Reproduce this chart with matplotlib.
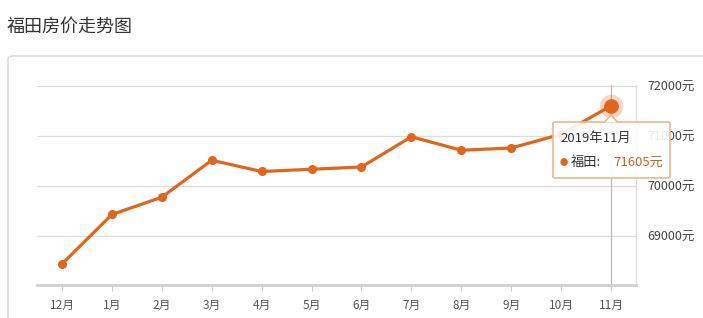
import matplotlib.pyplot as plt
from matplotlib.patches import FancyBboxPatch, Polygon

plt.rcParams['font.family'] = ['Noto Sans CJK SC', 'DejaVu Sans']

# data
months = ['12月', '1月', '2月', '3月', '4月', '5月', '6月', '7月', '8月', '9月', '10月', '11月']
prices = [68440, 69430, 69775, 70515, 70290, 70335, 70380, 70985, 70715, 70760, 71035, 71605]
y_ticks = [69000, 70000, 71000, 72000]
title = '福田房价走势图'
series_name = '福田'
tip_label = '2019年11月'

line_color = '#e2651c'
W, H = 703, 318

fig = plt.figure(figsize=(W / 100, H / 100), dpi=100)

def fx(px):
    return px / W

def fy(py):
    return 1 - py / H

# title and card border
fig.text(fx(7), fy(27), title, fontsize=13, color='#333333', va='center', ha='left')
card = FancyBboxPatch((fx(8), fy(330)), fx(720), fy(56) - fy(330),
                      boxstyle='round,pad=0,rounding_size=0.008',
                      transform=fig.transFigure, facecolor='white',
                      edgecolor='#dddddd', linewidth=1.2, zorder=-5)
fig.patches.append(card)

ax = fig.add_axes([fx(37), fy(285), fx(636) - fx(37), fy(85) - fy(285)])
ax.set_facecolor('none')
x = list(range(len(months)))
ax.set_xlim(-0.5, len(months) - 0.5)
ax.set_ylim(68020, 72020)

for v in y_ticks:
    ax.axhline(v, color='#dddddd', linewidth=0.9, zorder=1)

ax.plot(x, prices, color=line_color, linewidth=2.3, marker='o',
        markersize=5.5, zorder=3, solid_capstyle='round')
# hovered point
ax.axvline(x[-1], color='#bbbbbb', linewidth=0.9, zorder=2)
ax.plot(x[-1], prices[-1], 'o', color=line_color, markersize=17, alpha=0.25,
        markeredgewidth=0, zorder=4)
ax.plot(x[-1], prices[-1], 'o', color=line_color, markersize=9.5, zorder=5)

ax.set_xticks(x)
ax.set_xticklabels(months, fontsize=8.5, color='#555555')
ax.set_yticks(y_ticks)
ax.set_yticklabels([f'{v}元' for v in y_ticks], fontsize=9, color='#444444')
ax.yaxis.tick_right()
ax.tick_params(axis='y', length=0, pad=8)
ax.tick_params(axis='x', length=4, color='#cccccc', pad=6)
for s in ['left', 'top']:
    ax.spines[s].set_visible(False)
ax.spines['right'].set_color('#dddddd')
ax.spines['right'].set_linewidth(0.9)
ax.spines['bottom'].set_color('#d0d0d0')
ax.spines['bottom'].set_linewidth(2)

# tooltip
tx0, tx1, ty0, ty1 = 553, 670, 122, 178
tip = FancyBboxPatch((fx(tx0), fy(ty1)), fx(tx1 - tx0), fy(ty0) - fy(ty1),
                     boxstyle='round,pad=0,rounding_size=0.004',
                     transform=fig.transFigure, facecolor=(1, 1, 1, 0.9),
                     edgecolor='#ecb88c', linewidth=1.2, zorder=10)
fig.patches.append(tip)
arrow = Polygon([(fx(604), fy(122.5)), (fx(611), fy(115)), (fx(618), fy(122.5))],
                closed=False, transform=fig.transFigure, facecolor='white',
                edgecolor='#ecb88c', linewidth=1.2, zorder=11)
fig.patches.append(arrow)
fig.text(fx(560), fy(138), tip_label, fontsize=9.5, color='#333333', va='center', zorder=12)
fig.text(fx(560), fy(162), '●', fontsize=6, color=line_color, va='center', zorder=12)
fig.text(fx(571), fy(162), series_name + ':', fontsize=9.5, color='#333333', va='center', zorder=12)
fig.text(fx(613), fy(162), f'{prices[-1]}元', fontsize=9.5, color='#c0662c', va='center', zorder=12)

fig.savefig('out.png', dpi=100)
